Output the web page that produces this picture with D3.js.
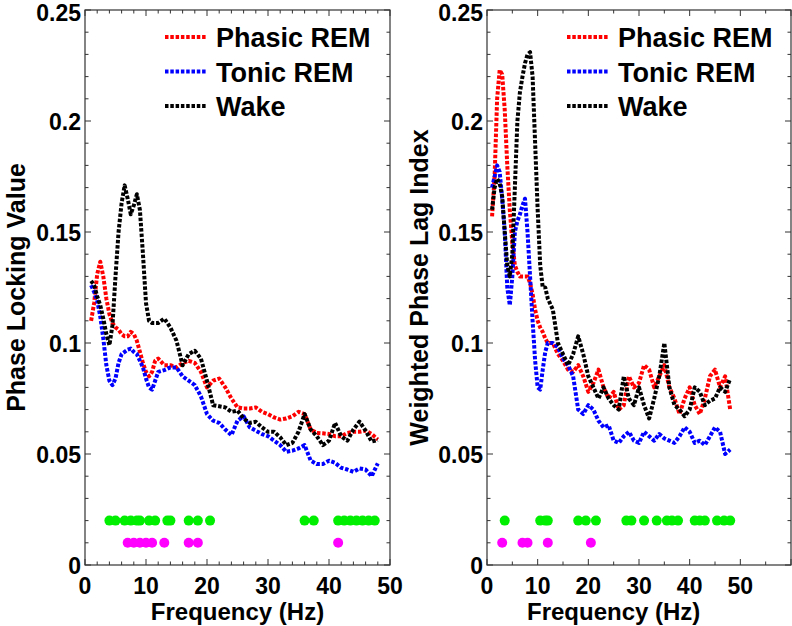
<!DOCTYPE html>
<html><head><meta charset="utf-8">
<script src="https://cdn.jsdelivr.net/npm/d3@7"></script>
<style>
body{margin:0;background:#fff}
svg{display:block}
text{font-family:"Liberation Sans",Arial,sans-serif;font-weight:bold;fill:#000}
</style></head><body>
<script>
// Frequency grid (Hz)
const freq = [1,1.5,2,2.5,3,3.5,4,4.5,5,5.5,6,6.5,7,7.5,8,8.5,9,9.5,10,10.5,11,11.5,12,
  13,14,15,16,17,18,19,20,21,22,23,24,25,26,27,28,29,30,31,32,33,34,35,36,37,38,39,40,41,42,43,44,45,46,47,48];

// Left panel: Phase Locking Value
const plvPhasic = [0.110,0.118,0.131,0.1366,0.130,0.120,0.113,0.109,0.107,0.106,0.104,0.103,0.103,0.105,0.104,0.101,0.096,0.091,0.087,0.085,0.087,0.092,0.093,
  0.090,0.090,0.089,0.091,0.092,0.091,0.087,0.080,0.083,0.084,0.080,0.075,0.071,0.0705,0.0705,0.071,0.069,0.068,0.0665,0.0655,0.066,0.067,0.069,0.068,0.061,0.0595,0.0593,0.059,0.058,0.058,0.0595,0.060,0.060,0.0605,0.059,0.0565];
const plvTonic = [0.126,0.123,0.119,0.112,0.102,0.090,0.083,0.081,0.084,0.091,0.095,0.096,0.097,0.0975,0.096,0.095,0.092,0.089,0.084,0.080,0.079,0.083,0.087,
  0.0878,0.089,0.089,0.085,0.083,0.081,0.076,0.068,0.065,0.064,0.061,0.0585,0.065,0.067,0.062,0.0605,0.059,0.058,0.056,0.054,0.051,0.0515,0.0525,0.054,0.047,0.0455,0.0455,0.047,0.046,0.0438,0.043,0.042,0.0435,0.043,0.040,0.0458];
const plvWake = [0.128,0.126,0.121,0.117,0.111,0.104,0.099,0.108,0.130,0.150,0.163,0.171,0.165,0.158,0.162,0.167,0.160,0.140,0.118,0.110,0.109,0.109,0.109,
  0.111,0.107,0.101,0.090,0.095,0.0965,0.093,0.083,0.072,0.0715,0.071,0.069,0.0695,0.066,0.064,0.0645,0.062,0.060,0.060,0.0575,0.054,0.055,0.060,0.068,0.061,0.058,0.054,0.056,0.064,0.058,0.056,0.061,0.0646,0.0605,0.0556,0.0563];

// Right panel: Weighted Phase Lag Index
const wpliPhasic = [0.157,0.175,0.210,0.223,0.221,0.205,0.180,0.160,0.145,0.135,0.132,0.130,0.130,0.130,0.130,0.127,0.122,0.115,0.110,0.107,0.105,0.102,0.100,
  0.100,0.095,0.092,0.088,0.087,0.090,0.085,0.078,0.082,0.088,0.080,0.075,0.078,0.070,0.072,0.085,0.080,0.082,0.090,0.088,0.080,0.085,0.090,0.080,0.075,0.068,0.075,0.080,0.072,0.068,0.075,0.085,0.088,0.080,0.085,0.070];
const wpliTonic = [0.170,0.175,0.180,0.177,0.165,0.150,0.125,0.117,0.130,0.150,0.155,0.158,0.162,0.165,0.150,0.130,0.110,0.092,0.080,0.079,0.088,0.096,0.100,
  0.100,0.098,0.093,0.090,0.085,0.070,0.068,0.072,0.070,0.065,0.062,0.063,0.056,0.055,0.058,0.060,0.056,0.055,0.060,0.058,0.056,0.059,0.057,0.056,0.055,0.058,0.062,0.060,0.055,0.056,0.054,0.058,0.062,0.060,0.050,0.052];
const wpliWake = [0.160,0.170,0.174,0.172,0.166,0.150,0.135,0.130,0.140,0.170,0.200,0.213,0.220,0.226,0.230,0.231,0.220,0.190,0.160,0.135,0.125,0.125,0.120,
  0.115,0.100,0.095,0.090,0.095,0.103,0.095,0.085,0.080,0.075,0.080,0.075,0.072,0.070,0.085,0.075,0.072,0.080,0.072,0.066,0.075,0.085,0.100,0.080,0.072,0.070,0.067,0.070,0.080,0.078,0.072,0.074,0.075,0.080,0.078,0.084];

// Significance markers (Hz)
const sigGreenL = [4,5,6.5,7.5,8.5,9,10.5,11.5,13.5,14,17,18.5,20.5,36,37.5,41.5,42.5,43.5,44.5,45.5,46.5,47.5];
const sigMagentaL = [7,8,9,10,11,13,17,18.5,41.5];
const sigGreenR = [3.5,10.5,11.5,12,18,19.5,21.5,27.5,28.5,31,33.5,35.5,36.5,37.7,41,42,43,45.4,46.8,48];
const sigMagentaR = [3,7,8,12,20.5];
const greenLevel = 0.02, magentaLevel = 0.01;

const seriesNames = ["Phasic REM","Tonic REM","Wake"];
const seriesColors = ["#ff0000","#0000ff","#000000"];
const yTickLabels = ["0","0.05","0.1","0.15","0.2","0.25"];
const yTickValues = [0,0.05,0.1,0.15,0.2,0.25];
const xTickValues = [0,10,20,30,40,50];

const W = 792, H = 626;
const svg = d3.select("body").append("svg").attr("width", W).attr("height", H);

const panels = [
  {x0:85, x1:390, xmax:50, minorX:2, ylabel:"Phase Locking Value", ylabelX:25,
   data:[plvPhasic, plvTonic, plvWake], green:sigGreenL, magenta:sigMagentaL},
  {x0:487, x1:791, xmax:60, minorX:5, ylabel:"Weighted Phase Lag Index", ylabelX:428,
   data:[wpliPhasic, wpliTonic, wpliWake], green:sigGreenR, magenta:sigMagentaR}
];
const yTop = 10, yBot = 565;

panels.forEach((p, pi) => {
  const x = d3.scaleLinear().domain([0, p.xmax]).range([p.x0, p.x1]);
  const y = d3.scaleLinear().domain([0, 0.25]).range([yBot, yTop]);
  const g = svg.append("g");
  const clipId = "clip" + pi;
  svg.append("clipPath").attr("id", clipId).append("rect")
    .attr("x", p.x0).attr("y", yTop).attr("width", p.x1 - p.x0).attr("height", yBot - yTop);

  // frame
  g.append("rect").attr("x", p.x0).attr("y", yTop).attr("width", p.x1 - p.x0).attr("height", yBot - yTop)
    .attr("fill", "none").attr("stroke", "#333").attr("stroke-width", 1.2);

  // ticks
  const xMinor = d3.range(0, p.xmax + 0.001, p.minorX);
  const yMinor = d3.range(0, 0.2501, 0.01);
  const tk = g.append("g").attr("stroke", "#333").attr("stroke-width", 1);
  xMinor.forEach(v => {
    const major = Math.abs(v / 10 - Math.round(v / 10)) < 1e-6;
    const L = major ? 6 : 3.5;
    tk.append("line").attr("x1", x(v)).attr("x2", x(v)).attr("y1", yBot).attr("y2", yBot - L);
    tk.append("line").attr("x1", x(v)).attr("x2", x(v)).attr("y1", yTop).attr("y2", yTop + L);
  });
  yMinor.forEach(v => {
    const major = Math.abs(v / 0.05 - Math.round(v / 0.05)) < 1e-6;
    const L = major ? 6 : 3.5;
    tk.append("line").attr("x1", p.x0).attr("x2", p.x0 + L).attr("y1", y(v)).attr("y2", y(v));
    tk.append("line").attr("x1", p.x1).attr("x2", p.x1 - L).attr("y1", y(v)).attr("y2", y(v));
  });

  // tick labels (top label nudged so it stays inside the page)
  g.selectAll(".yl").data(yTickValues).enter().append("text")
    .attr("x", p.x0 - 4).attr("y", d => Math.max(y(d) + 8.7, 21))
    .attr("text-anchor", "end").style("font-size", "23px")
    .text((d, i) => yTickLabels[i]);
  g.selectAll(".xl").data(xTickValues).enter().append("text")
    .attr("x", d => x(d)).attr("y", 594)
    .attr("text-anchor", "middle").style("font-size", "23px")
    .text(d => d);

  // axis titles
  g.append("text").attr("x", (p.x0 + x(50)) / 2).attr("y", 620)
    .attr("text-anchor", "middle").style("font-size", "24px").text("Frequency (Hz)");
  g.append("text").attr("transform", `translate(${p.ylabelX},${(yTop + yBot) / 2}) rotate(-90)`)
    .attr("text-anchor", "middle").style("font-size", "25px").text(p.ylabel);

  // lines
  const line = d3.line().x((d, i) => x(freq[i])).y(d => y(d));
  const lg = g.append("g").attr("clip-path", `url(#${clipId})`);
  p.data.forEach((arr, si) => {
    lg.append("path").datum(arr).attr("d", line)
      .attr("fill", "none").attr("stroke", seriesColors[si]).attr("stroke-width", 4)
      .attr("stroke-dasharray", "3.5,1.8").attr("stroke-linejoin", "round");
  });

  // significance dots
  lg.selectAll(".gd").data(p.green).enter().append("circle")
    .attr("cx", d => x(d)).attr("cy", y(greenLevel)).attr("r", 5).attr("fill", "#00ee00");
  lg.selectAll(".md").data(p.magenta).enter().append("circle")
    .attr("cx", d => x(d)).attr("cy", y(magentaLevel)).attr("r", 5).attr("fill", "#ff00ff");

  // legend
  const leg = g.append("g");
  seriesNames.forEach((name, si) => {
    const cy = 37 + si * 34.5;
    leg.append("line").attr("x1", p.x0 + 80).attr("x2", p.x0 + 122).attr("y1", cy).attr("y2", cy)
      .attr("stroke", seriesColors[si]).attr("stroke-width", 4).attr("stroke-dasharray", "3.5,1.8");
    leg.append("text").attr("x", p.x0 + 131).attr("y", cy + 10).style("font-size", "27px").text(name);
  });
});
</script>
</body></html>
